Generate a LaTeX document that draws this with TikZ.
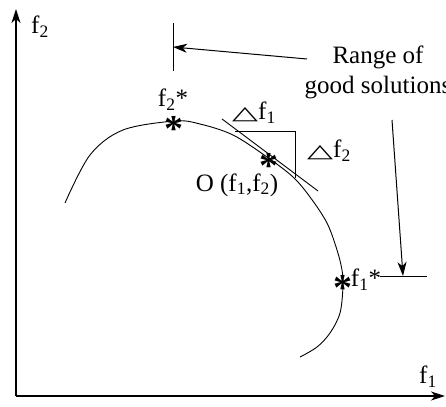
\documentclass[tikz,border=0pt]{standalone}
\usepackage{fontspec}
\setmainfont{Liberation Serif}
\newfontfamily\symfont{DejaVu Sans}
\usetikzlibrary{arrows.meta, positioning}

\newcommand{\dlt}{{\symfont\scalebox{1.35}[0.75]{△}}}

\begin{document}
\begin{tikzpicture}[
      x=1pt, y=-1pt,
      lbl/.style={font=\fontsize{25}{30}\selectfont, inner sep=0pt},
      starmark/.style={font=\fontsize{38}{38}\selectfont\bfseries, inner sep=0pt, anchor=center, yshift=-7pt},
      axis/.style={-{Stealth[length=14pt, width=9pt, inset=4pt]}, line width=1.2pt},
      arr/.style={-{Stealth[length=14pt, width=9pt, inset=4pt]}, line width=1pt},
      thin line/.style={line width=0.9pt}
    ]
      \useasboundingbox (0,0) rectangle (446,406);

      % axes
      \coordinate (origin) at (16,396);
      \coordinate (ytip)   at (16,9);
      \coordinate (xtip)   at (445,396);
      \draw[axis] (origin) -- (ytip);
      \draw[axis] (origin) -- (xtip);
      \node[lbl] (f2axis) at (40,27)   {f\textsubscript{2}};
      \node[lbl] (f1axis) at (428,377) {f\textsubscript{1}};

      % pareto front
      \draw[thin line] plot[smooth, tension=0.55] coordinates {
        (65,203) (90,155) (123,130) (175,121) (200,124) (233,135) (267,157)
        (293,177) (310,197) (327,223) (337,250) (342,270) (343,286)
        (340,313) (330,333) (317,347) (300,357)};

      % tangent and increments
      \coordinate (tana) at (222,119);
      \coordinate (tanb) at (318,191);
      \draw[thin line] (tana) -- (tanb);
      \coordinate (da) at (235,131);
      \coordinate (db) at (295,131);
      \coordinate (dc) at (295,178);
      \draw[thin line] (da) -- (db) -- (dc);

      % marked points
      \node[starmark] (f2star) at (174,122) {*};
      \node[starmark] (ostar)  at (269,159) {*};
      \node[starmark] (f1star) at (343,281) {*};

      \node[lbl] (f2lbl) at (173,100) {f\textsubscript{2}*};
      \node[lbl] (f1lbl) at (366,280) {f\textsubscript{1}*};
      \node[lbl] (olbl)  at (237,185) {O (f\textsubscript{1},f\textsubscript{2})};
      \node[lbl] (df1)   at (254,113) {\dlt f\textsubscript{1}};
      \node[lbl] (df2)   at (329,151) {\dlt f\textsubscript{2}};

      % range of good solutions
      \node[lbl, align=center] (range) at (378,72) {Range of\\good solutions};
      \coordinate (tickatop) at (173,23);
      \coordinate (tickabot) at (173,71);
      \coordinate (tickamid) at (173,47);
      \draw[thin line] (tickatop) -- (tickabot);
      \coordinate (tickbl) at (380,276);
      \coordinate (tickbr) at (427,276);
      \coordinate (tickbmid) at (403,276);
      \draw[thin line] (tickbl) -- (tickbr);
      \coordinate (arra) at (307,59);
      \coordinate (arrb) at (392,120);
      \draw[arr] (arra) -- (tickamid);
      \draw[arr] (arrb) -- (tickbmid);
    \end{tikzpicture}
\end{document}
